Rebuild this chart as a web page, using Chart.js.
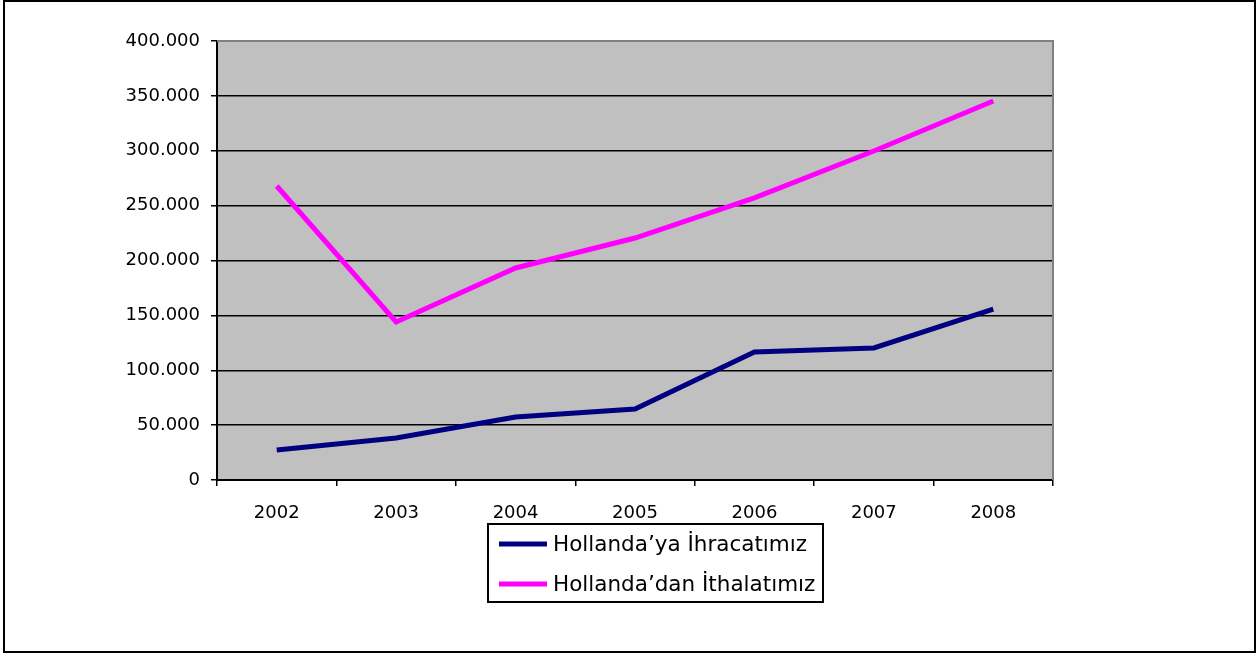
<!DOCTYPE html>
<html>
<head>
<meta charset="utf-8">
<script src="https://cdn.jsdelivr.net/npm/chart.js@4.4.1/dist/chart.umd.min.js"></script>
<style>
  body { margin: 0; background: #fff; }
  #wrap { position: relative; width: 1257px; height: 653px; }
  #frame { position: absolute; left: 3px; top: 0; width: 1253px; height: 653px; box-sizing: border-box; border: 2px solid #000; pointer-events: none; }
  canvas { position: absolute; left: 0; top: 0; }
</style>
</head>
<body>
<div id="wrap">
  <canvas id="tradeChart" width="1257" height="653"></canvas>
  <div id="frame"></div>
</div>
<script>
// Years on the x axis
const years = ["2002", "2003", "2004", "2005", "2006", "2007", "2008"];
// Export to the Netherlands
const exports = [27300, 38300, 57400, 64700, 116600, 120300, 155800];
// Import from the Netherlands
const imports = [267900, 144000, 193200, 220500, 257000, 299800, 345300];
const seriesLabels = ["Hollanda\u2019ya \u0130hracat\u0131m\u0131z", "Hollanda\u2019dan \u0130thalat\u0131m\u0131z"];

const FONT = "'DejaVu Sans', Arial, sans-serif";

// format 350000 -> "350.000"
function formatThousands(v) {
    return String(v).replace(/\B(?=(\d{3})+(?!\d))/g, ".");
}

// gray plot background and gray top/right border
const plotBackground = {
    id: "plotBackground",
    beforeDraw(chart) {
        const { ctx, chartArea: a } = chart;
        ctx.save();
        ctx.fillStyle = "#C0C0C0";
        ctx.fillRect(a.left, a.top, a.right - a.left, a.bottom - a.top);
        ctx.restore();
    },
    beforeDatasetsDraw(chart) {
        const { ctx, chartArea: a } = chart;
        ctx.save();
        ctx.strokeStyle = "#808080";
        ctx.lineWidth = 2;
        ctx.beginPath();
        ctx.moveTo(a.left, a.top);
        ctx.lineTo(a.right, a.top);
        ctx.lineTo(a.right, a.bottom);
        ctx.stroke();
        ctx.restore();
    }
};

// boxed legend below the plot, one entry per row
const boxedLegend = {
    id: "boxedLegend",
    afterDraw(chart) {
        const ctx = chart.ctx;
        const box = { x: 488, y: 524, w: 335, h: 78 };
        ctx.save();
        ctx.fillStyle = "#fff";
        ctx.fillRect(box.x, box.y, box.w, box.h);
        ctx.strokeStyle = "#000";
        ctx.lineWidth = 2;
        ctx.strokeRect(box.x, box.y, box.w, box.h);
        ctx.font = "21.5px " + FONT;
        ctx.textBaseline = "middle";
        chart.data.datasets.forEach((ds, i) => {
            const y = box.y + 20 + i * 40;
            ctx.strokeStyle = ds.borderColor;
            ctx.lineWidth = 5;
            ctx.beginPath();
            ctx.moveTo(box.x + 11, y);
            ctx.lineTo(box.x + 59, y);
            ctx.stroke();
            ctx.fillStyle = "#000";
            ctx.fillText(ds.label, box.x + 65, y + 1);
        });
        ctx.restore();
    }
};

new Chart(document.getElementById("tradeChart"), {
    type: "line",
    data: {
        labels: years,
        datasets: [
            {
                label: seriesLabels[0],
                data: exports,
                borderColor: "#000080",
                borderWidth: 5,
                pointRadius: 0,
                tension: 0,
                borderCapStyle: "butt"
            },
            {
                label: seriesLabels[1],
                data: imports,
                borderColor: "#FF00FF",
                borderWidth: 5,
                pointRadius: 0,
                tension: 0,
                borderCapStyle: "butt"
            }
        ]
    },
    options: {
        responsive: false,
        animation: false,
        layout: { padding: { left: 0, top: 41, right: 204, bottom: 0 } },
        plugins: {
            legend: { display: false },
            tooltip: { enabled: false }
        },
        scales: {
            x: {
                offset: true,
                grid: { display: true, drawOnChartArea: false, offset: true, color: "#000", tickLength: 6, lineWidth: 1.5 },
                border: { display: true, color: "#000", width: 2 },
                ticks: { color: "#000", font: { family: FONT, size: 18 }, padding: 17, maxRotation: 0 },
                afterFit(scale) { scale.height = 173; }
            },
            y: {
                min: 0,
                max: 400000,
                grid: { color: "#000", lineWidth: 1.5, tickLength: 6 },
                border: { display: true, color: "#000", width: 2 },
                ticks: {
                    stepSize: 50000,
                    color: "#000",
                    padding: 11,
                    font: { family: FONT, size: 18 },
                    callback: (v) => formatThousands(v)
                },
                afterFit(scale) { scale.width = 217; }
            }
        }
    },
    plugins: [plotBackground, boxedLegend]
});
</script>
</body>
</html>
